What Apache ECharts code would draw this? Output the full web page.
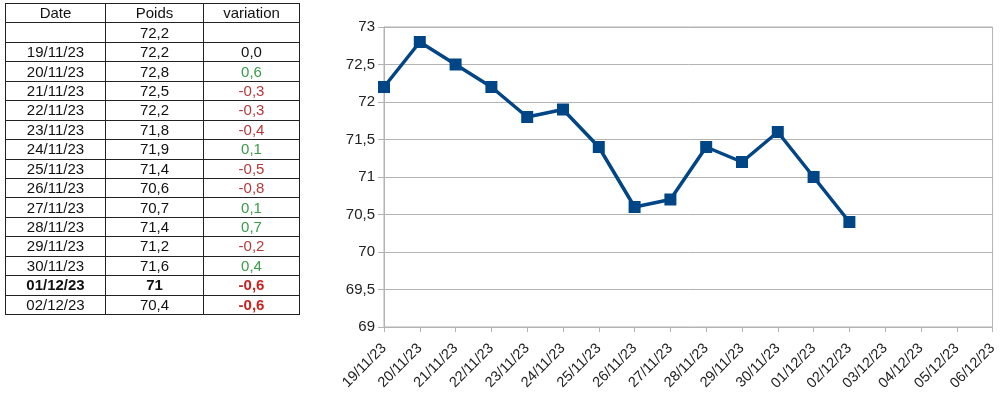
<!DOCTYPE html>
<html>
<head>
<meta charset="utf-8">
<script src="https://cdn.jsdelivr.net/npm/echarts@6/dist/echarts.min.js"></script>
<style>
  html, body { margin: 0; padding: 0; background: #fff; }
  #wrap { position: relative; width: 1000px; height: 395px; overflow: hidden; }
  #chart { position: absolute; left: 0; top: 0; width: 1000px; height: 395px; }
  #tbl { position: absolute; left: 5px; top: 3px; border-collapse: collapse;
         font-family: "Liberation Sans", Arial, sans-serif; font-size: 15px; color: #111; }
  #tbl td { border: 1px solid #222; padding: 0; height: 18.44px; line-height: 18px; text-align: center; }
  #tbl td.c1 { width: 99px; }
  #tbl td.c2 { width: 97px; }
  #tbl td.c3 { width: 95px; }
  .b { font-weight: bold; }
</style>
</head>
<body>
<div id="wrap">
  <div id="chart"></div>
  <table id="tbl"></table>
</div>
<script>
// ---- data ----
const tableHeaders = ['Date', 'Poids', 'variation'];
const startWeight = '72,2';
const tableDates = ['19/11/23','20/11/23','21/11/23','22/11/23','23/11/23','24/11/23','25/11/23',
                    '26/11/23','27/11/23','28/11/23','29/11/23','30/11/23','01/12/23','02/12/23'];
const tableWeights = ['72,2','72,8','72,5','72,2','71,8','71,9','71,4','70,6','70,7','71,4','71,2','71,6','71','70,4'];
const tableVariations = [0.0, 0.6, -0.3, -0.3, -0.4, 0.1, -0.5, -0.8, 0.1, 0.7, -0.2, 0.4, -0.6, -0.6];
const boldRows = [12];           // whole row bold
const boldVariation = [12, 13];  // variation cell bold

const xCategories = ['19/11/23','20/11/23','21/11/23','22/11/23','23/11/23','24/11/23','25/11/23',
                     '26/11/23','27/11/23','28/11/23','29/11/23','30/11/23','01/12/23','02/12/23',
                     '03/12/23','04/12/23','05/12/23','06/12/23'];
const weights = [72.2, 72.8, 72.5, 72.2, 71.8, 71.9, 71.4, 70.6, 70.7, 71.4, 71.2, 71.6, 71.0, 70.4];
const yMin = 69, yMax = 73, yStep = 0.5;

// ---- table ----
(function buildTable() {
  const t = document.getElementById('tbl');
  let h = '<tr>' + tableHeaders.map((x, i) => `<td class="c${i+1}">${x}</td>`).join('') + '</tr>';
  h += `<tr><td class="c1"></td><td class="c2">${startWeight}</td><td class="c3"></td></tr>`;
  tableDates.forEach((d, i) => {
    const v = tableVariations[i];
    const rowBold = boldRows.includes(i);
    const vBold = boldVariation.includes(i);
    let color = '#111';
    if (v > 0) color = '#3a9b4a';
    else if (v < 0) color = vBold ? '#c9211e' : '#b5393a';
    const txt = v.toFixed(1).replace('.', ',');
    h += `<tr${rowBold ? ' class="b"' : ''}><td class="c1">${d}</td><td class="c2">${tableWeights[i]}</td>` +
         `<td class="c3${vBold ? ' b' : ''}" style="color:${color}">${txt}</td></tr>`;
  });
  t.innerHTML = h;
})();

// ---- chart ----
const chart = echarts.init(document.getElementById('chart'));
const fmt = v => String(v).replace('.', ',');
chart.setOption({
  animation: false,
  textStyle: { fontFamily: 'Liberation Sans, Arial, sans-serif' },
  grid: { left: 384, right: 4, top: 27, bottom: 68, show: true, borderColor: '#b3b3b3', borderWidth: 1 },
  xAxis: {
    type: 'category',
    data: xCategories,
    boundaryGap: false,
    axisLine: { lineStyle: { color: '#b3b3b3', width: 1 } },
    axisTick: { show: true, length: 5, alignWithLabel: true, lineStyle: { color: '#b3b3b3' } },
    axisLabel: { rotate: 45, interval: 0, margin: 19, fontSize: 14.5, color: '#222',
                 fontFamily: 'Liberation Sans, Arial, sans-serif' },
    splitLine: { show: false }
  },
  yAxis: {
    type: 'value',
    min: yMin, max: yMax, interval: yStep,
    axisLine: { show: true, lineStyle: { color: '#b3b3b3', width: 1 } },
    axisTick: { show: true, length: 6, lineStyle: { color: '#b3b3b3' } },
    axisLabel: { formatter: fmt, fontSize: 15, color: '#222', margin: 9,
                 fontFamily: 'Liberation Sans, Arial, sans-serif' },
    splitLine: { show: true, lineStyle: { color: '#b3b3b3', width: 1 } }
  },
  series: [{
    type: 'line',
    data: weights,
    symbol: 'rect',
    symbolSize: 12,
    showAllSymbol: true,
    lineStyle: { color: '#004586', width: 3.5 },
    itemStyle: { color: '#004586' }
  }]
});
</script>
</body>
</html>
